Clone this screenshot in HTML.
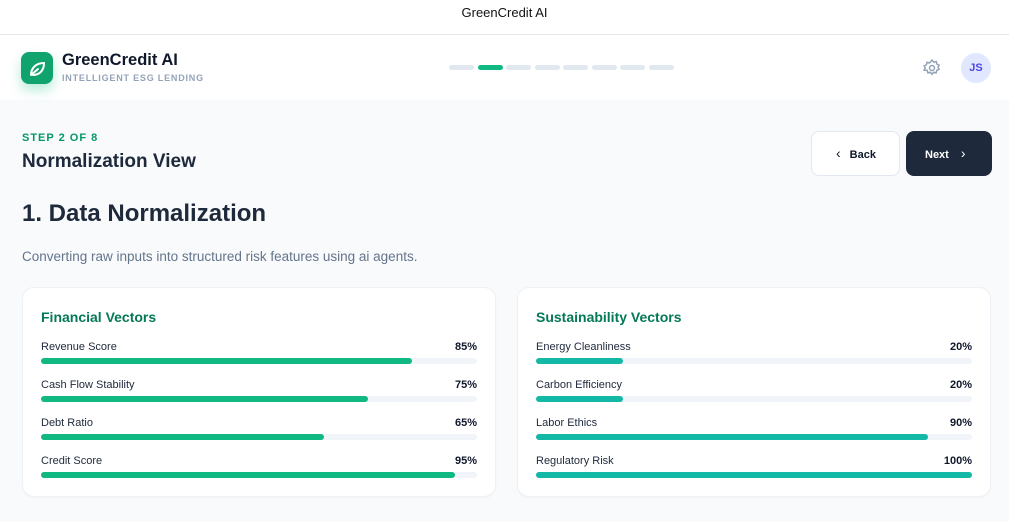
<!DOCTYPE html>
<html><head><meta charset="utf-8"><style>
*{box-sizing:border-box;margin:0;padding:0}
body{width:1009px;height:522px;overflow:hidden;font-family:"Liberation Sans",sans-serif;background:#f8fafc;position:relative;color:#1e293b}
.abs{position:absolute}
.card{position:absolute;top:287px;width:474px;height:210px;background:#fff;border:1px solid #eef1f5;border-radius:12px;box-shadow:0 1px 2px rgba(0,0,0,.03)}
.ct{position:absolute;left:18px;top:21px;font-size:14px;font-weight:bold;color:#047857}
.row{position:absolute;left:18px;width:436px;height:30px}
.lbl{position:absolute;left:0;top:0;font-size:11px;color:#1e293b}
.val{position:absolute;right:0;top:0;font-size:11px;font-weight:bold;color:#0f172a}
.track{position:absolute;left:0;top:17px;width:436px;height:6px;border-radius:3px;background:#f1f5f9}
.fill{height:6px;border-radius:3px}
</style></head><body>
<div class="abs" style="left:0;top:0;width:1009px;height:35px;background:#fff;border-bottom:1px solid #e5e7eb;text-align:center;font-size:13px;line-height:26px;color:#111">GreenCredit AI</div>
<div class="abs" style="left:0;top:35px;width:1009px;height:65px;background:#fff">
 <div class="abs" style="left:21px;top:17px;width:32px;height:32px;border-radius:8px;background:#10a36e;box-shadow:0 6px 12px rgba(16,185,129,.3)">
  <svg width="32" height="32" viewBox="0 0 32 32"><path d="M10 23c0-7 5-12 13-12 0 8-5 12-11 12M10 23l7-6" fill="none" stroke="#fff" stroke-width="2" stroke-linecap="round"/></svg></div>
 <div class="abs" style="left:62px;top:16px;font-size:16.5px;font-weight:bold;color:#0f172a">GreenCredit AI</div>
 <div class="abs" style="left:62px;top:38px;font-size:9px;font-weight:bold;letter-spacing:.8px;color:#94a3b8">INTELLIGENT ESG LENDING</div>
 <div class="abs" style="left:449px;top:30px;display:flex;gap:3.5px">
  <div style="width:25px;height:5px;border-radius:3px;background:#e2e8f0"></div><div style="width:25px;height:5px;border-radius:3px;background:#10b981"></div><div style="width:25px;height:5px;border-radius:3px;background:#e2e8f0"></div><div style="width:25px;height:5px;border-radius:3px;background:#e2e8f0"></div><div style="width:25px;height:5px;border-radius:3px;background:#e2e8f0"></div><div style="width:25px;height:5px;border-radius:3px;background:#e2e8f0"></div><div style="width:25px;height:5px;border-radius:3px;background:#e2e8f0"></div><div style="width:25px;height:5px;border-radius:3px;background:#e2e8f0"></div>
 </div>
 <div class="abs" style="left:922px;top:23px;width:20px;height:20px">
  <svg width="20" height="20" viewBox="0 0 24 24" fill="none" stroke="#94a3b8" stroke-width="1.8"><circle cx="12" cy="12" r="3"/><path d="M12 2.5l2 2.5 3-.8.8 3 2.7 1.3-1.3 2.5 1.3 2.5-2.7 1.3-.8 3-3-.8-2 2.5-2-2.5-3 .8-.8-3L2.5 14.5 3.8 12 2.5 9.5l2.7-1.3.8-3 3 .8z"/></svg></div>
 <div class="abs" style="left:961px;top:18px;width:30px;height:30px;border-radius:50%;background:#e0e7ff;color:#4f46e5;font-size:11px;font-weight:bold;text-align:center;line-height:30px">JS</div>
</div>
<div class="abs" style="left:22px;top:132px;font-size:11px;font-weight:bold;letter-spacing:1px;color:#059669">STEP 2 OF 8</div>
<div class="abs" style="left:22px;top:151px;font-size:19px;font-weight:bold;color:#1e293b">Normalization View</div>
<div class="abs" style="left:811px;top:131px;width:89px;height:45px;background:#fff;border:1px solid #e2e8f0;border-radius:8px;font-size:11px;font-weight:bold;line-height:43px;padding-left:24px;color:#0f172a"><span style="font-size:14px;font-weight:normal;margin-right:9px">&#8249;</span>Back</div>
<div class="abs" style="left:906px;top:131px;width:86px;height:45px;background:#1e293b;border-radius:8px;font-size:11px;font-weight:bold;line-height:45px;padding-left:19px;color:#fff">Next<span style="font-size:14px;font-weight:normal;margin-left:12px">&#8250;</span></div>
<div class="abs" style="left:22px;top:200px;font-size:24px;font-weight:bold;color:#1e293b">1. Data Normalization</div>
<div class="abs" style="left:22px;top:249px;font-size:13.5px;color:#64748b">Converting raw inputs into structured risk features using ai agents.</div>
<div class="card" style="left:22px"><div class="ct">Financial Vectors</div><div id="fin"></div></div>
<div class="card" style="left:517px"><div class="ct">Sustainability Vectors</div><div id="sus"></div></div>
<script>
const finLabels=["Revenue Score","Cash Flow Stability","Debt Ratio","Credit Score"];
const finValues=[85,75,65,95];
const susLabels=["Energy Cleanliness","Carbon Efficiency","Labor Ethics","Regulatory Risk"];
const susValues=[20,20,90,100];
function build(id,labels,values,color){
 const host=document.getElementById(id);
 labels.forEach((l,i)=>{
  const r=document.createElement('div');r.className='row';r.style.top=(53+i*38)+'px';
  
  
  r.innerHTML='<div class="lbl">'+l+'</div><div class="val">'+values[i]+'%</div><div class="track"><div class="fill" style="width:'+values[i]+'%;background:'+color+'"></div></div>';
  host.appendChild(r);
  const f=r.querySelector('.fill');
  
  
 });
}
build('fin',finLabels,finValues,'#10b981');
build('sus',susLabels,susValues,'#14b8a6');
</script>
</body></html>
